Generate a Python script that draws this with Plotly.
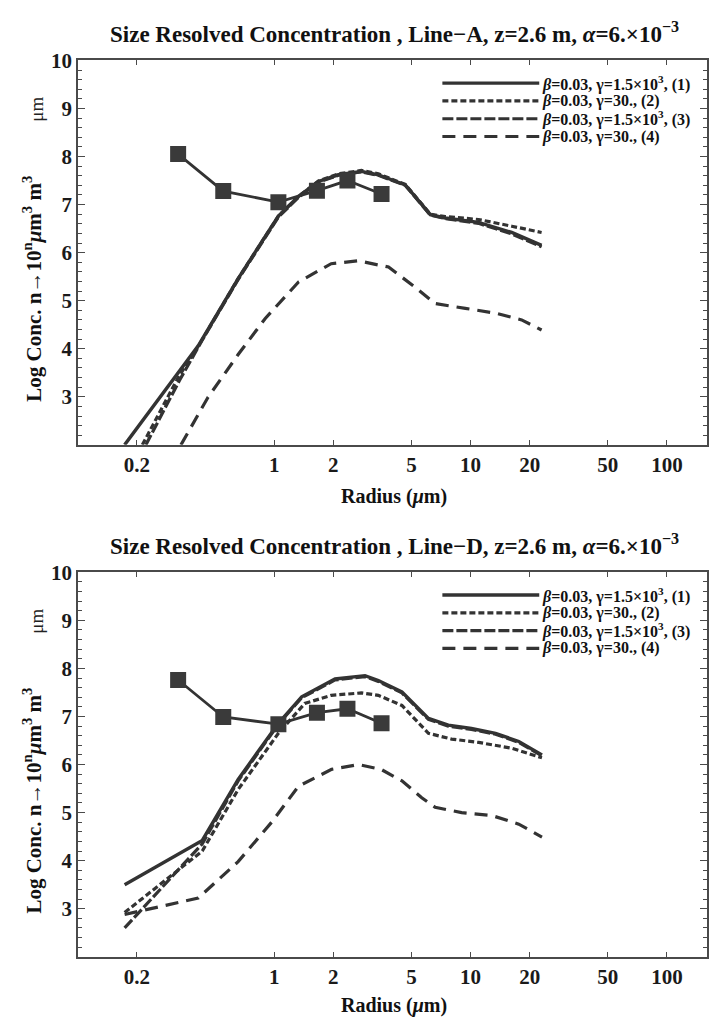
import plotly.graph_objects as go
import math

# ---------------- data ----------------
# Markers (measured), both panels share radii
R_MEAS = [0.324, 0.55, 1.05, 1.65, 2.36, 3.52]
V_MEAS_A = [8.05, 7.28, 7.05, 7.29, 7.50, 7.22]
V_MEAS_D = [7.76, 6.99, 6.84, 7.08, 7.16, 6.86]

# Line-A curves
R1A = [0.173, 0.30, 0.41, 0.655, 1.05, 1.33, 1.68, 2.12, 2.78, 3.39, 4.65, 6.24, 7.44, 10.97, 16.2, 23]
V1A = [2.0, 3.33, 4.06, 5.46, 6.76, 7.17, 7.48, 7.62, 7.69, 7.62, 7.41, 6.79, 6.72, 6.63, 6.42, 6.15]
R2A = [0.213, 0.324, 0.42, 0.655, 1.05, 1.33, 1.68, 2.12, 2.78, 3.39, 4.65, 6.24, 7.44, 10.97, 16.2, 23]
V2A = [2.0, 3.40, 4.12, 5.46, 6.76, 7.17, 7.49, 7.64, 7.71, 7.64, 7.42, 6.80, 6.75, 6.69, 6.55, 6.42]
R3A = [0.222, 0.33, 0.43, 0.655, 1.05, 1.33, 1.68, 2.12, 2.78, 3.39, 4.65, 6.24, 7.44, 10.97, 16.2, 23]
V3A = [2.0, 3.35, 4.18, 5.44, 6.74, 7.15, 7.47, 7.61, 7.68, 7.61, 7.40, 6.78, 6.71, 6.61, 6.39, 6.12]
R4A = [0.335, 0.46, 0.655, 0.90, 1.33, 1.95, 2.68, 3.82, 5.22, 6.6, 9.4, 13.4, 18.2, 23]
V4A = [2.0, 2.99, 3.88, 4.63, 5.39, 5.77, 5.83, 5.70, 5.28, 4.94, 4.84, 4.74, 4.60, 4.39]

# Line-D curves
R1D = [0.173, 0.43, 0.655, 1.05, 1.38, 2.04, 2.9, 3.39, 4.47, 6.1, 7.7, 10.1, 13.4, 17.6, 23.1]
V1D = [3.50, 4.42, 5.69, 6.86, 7.41, 7.78, 7.85, 7.75, 7.51, 6.96, 6.82, 6.75, 6.65, 6.48, 6.20]
R2D = [0.173, 0.43, 0.655, 1.05, 1.43, 1.95, 2.78, 3.39, 4.47, 6.1, 8.0, 11, 16.2, 23.1]
V2D = [2.92, 4.20, 5.48, 6.65, 7.27, 7.44, 7.49, 7.44, 7.23, 6.65, 6.53, 6.46, 6.34, 6.14]
R3D = [0.173, 0.43, 0.655, 1.05, 1.38, 2.04, 2.9, 3.39, 4.47, 6.1, 7.7, 10.1, 13.4, 17.6, 23.1]
V3D = [2.60, 4.35, 5.66, 6.84, 7.39, 7.76, 7.83, 7.73, 7.49, 6.94, 6.80, 6.73, 6.63, 6.46, 6.18]
R4D = [0.173, 0.41, 0.655, 0.97, 1.33, 1.96, 2.68, 3.5, 4.47, 5.64, 6.6, 9.0, 12.8, 17.6, 23.1]
V4D = [2.88, 3.22, 3.98, 4.80, 5.55, 5.90, 6.00, 5.90, 5.66, 5.31, 5.11, 5.00, 4.94, 4.76, 4.49]

X_TICKS = [0.2, 1, 2, 5, 10, 20, 50, 100]
X_TICKTEXT = ["0.2", "1", "2", "5", "10", "20", "50", "100"]
Y_TICKS = [3, 4, 5, 6, 7, 8, 9, 10]

LEGEND_LABELS = [
    "<i>β</i>=0.03, γ=1.5×10<sup>3</sup>, (1)",
    "<i>β</i>=0.03, γ=30., (2)",
    "<i>β</i>=0.03, γ=1.5×10<sup>3</sup>, (3)",
    "<i>β</i>=0.03, γ=30., (4)",
]
TITLES = [
    "<b>Size Resolved Concentration , Line−A, z=2.6 m, <i>α</i>=6.×10<sup>−3</sup></b>",
    "<b>Size Resolved Concentration , Line−D, z=2.6 m, <i>α</i>=6.×10<sup>−3</sup></b>",
]

# ---------------- styling ----------------
W, H = 709, 1019
FONT = "Liberation Serif"
INK = "#333333"
STYLES = [
    dict(width=3.4, dash="solid"),
    dict(width=3.2, dash="6px,3px"),
    dict(width=3.2, dash="11px,3px"),
    dict(width=3.2, dash="13px,8px"),
]

def px_x(p):
    return p / W

def px_y(p):
    return 1 - p / H

X0, X1 = 78, 708
PANELS = [(49, 438), (567, 956)]  # top/bottom pixel rows of plot frames

fig = go.Figure()

curves = [
    [(R1A, V1A), (R2A, V2A), (R3A, V3A), (R4A, V4A)],
    [(R1D, V1D), (R2D, V2D), (R3D, V3D), (R4D, V4D)],
]
meas = [V_MEAS_A, V_MEAS_D]

for i, panel in enumerate(curves):
    xa = "x" if i == 0 else "x2"
    ya = "y" if i == 0 else "y2"
    for k, (r, v) in enumerate(panel):
        fig.add_trace(go.Scatter(
            x=r, y=v, mode="lines", xaxis=xa, yaxis=ya,
            line=dict(color=INK, width=STYLES[k]["width"], dash=STYLES[k]["dash"]),
            showlegend=False, hoverinfo="skip"))
    fig.add_trace(go.Scatter(
        x=R_MEAS, y=meas[i], mode="lines+markers", xaxis=xa, yaxis=ya,
        line=dict(color=INK, width=2.8),
        marker=dict(symbol="square", size=16, color="#3a3a3a"),
        showlegend=False, hoverinfo="skip"))

axis_common = dict(
    showline=True, linecolor="#4a4a4a", linewidth=1.5, mirror="ticks",
    showgrid=False, zeroline=False, ticks="inside", tickcolor="#4a4a4a",
    tickfont=dict(family=FONT, size=21, color="#1a1a1a"),
)

xaxis = dict(axis_common, type="log", range=[-1, math.log10(160)],
             tickvals=X_TICKS, ticktext=["<b>%s</b>" % t for t in X_TICKTEXT],
             ticklen=5, domain=[px_x(X0), px_x(X1)])
yaxis_kw = dict(axis_common, range=[2, 10], tickvals=Y_TICKS,
                ticktext=["<b>%d</b>" % t for t in Y_TICKS], ticklen=7,
                minor=dict(dtick=0.2, tick0=2, ticks="inside", ticklen=4, tickcolor="#4a4a4a"))

fig.update_layout(
    width=W, height=H, margin=dict(l=0, r=0, t=0, b=0),
    paper_bgcolor="white", plot_bgcolor="white",
    xaxis=dict(xaxis, anchor="y"),
    xaxis2=dict(xaxis, anchor="y2"),
    yaxis=dict(yaxis_kw, anchor="x", domain=[px_y(PANELS[0][1]), px_y(PANELS[0][0])]),
    yaxis2=dict(yaxis_kw, anchor="x2", domain=[px_y(PANELS[1][1]), px_y(PANELS[1][0])]),
    showlegend=False,
)

annotations = []
shapes = []
for i, (top, bot) in enumerate(PANELS):
    off = top - 49
    # title
    annotations.append(dict(text=TITLES[i], x=px_x(395), y=px_y(21 + off), xref="paper", yref="paper",
                            showarrow=False, xanchor="center", yanchor="middle",
                            font=dict(family=FONT, size=23, color="#111")))
    # x title
    annotations.append(dict(text="<b>Radius (<i>μ</i>m)</b>", x=px_x(395), y=px_y(bot + (52 if i == 0 else 49)),
                            xref="paper", yref="paper", showarrow=False, xanchor="center", yanchor="middle",
                            font=dict(family=FONT, size=20, color="#111")))
    # y title
    annotations.append(dict(text="<b>Log Conc. n→10<sup>n</sup><i>μ</i>m<sup>3</sup> m<sup>3</sup></b>",
                            x=px_x(33), y=px_y(280 + off), xref="paper", yref="paper", showarrow=False,
                            textangle=-90, xanchor="center", yanchor="middle",
                            font=dict(family=FONT, size=21, color="#111")))
    annotations.append(dict(text="μm", x=px_x(37), y=px_y(98 + off), xref="paper", yref="paper",
                            showarrow=False, textangle=-90, xanchor="center", yanchor="middle",
                            font=dict(family=FONT, size=19, color="#222")))
    # legend
    for k, lab in enumerate(LEGEND_LABELS):
        yy = 72 + 18 * k + off
        shapes.append(dict(type="line", xref="paper", yref="paper",
                           x0=px_x(443), x1=px_x(540), y0=px_y(yy), y1=px_y(yy),
                           line=dict(color=INK, width=STYLES[k]["width"], dash=STYLES[k]["dash"])))
        annotations.append(dict(text="<b>%s</b>" % lab, x=px_x(541), y=px_y(yy), xref="paper", yref="paper",
                                showarrow=False, xanchor="left", yanchor="middle",
                                font=dict(family=FONT, size=16, color="#111")))

fig.update_layout(annotations=annotations, shapes=shapes)
fig.write_html("out.html")
